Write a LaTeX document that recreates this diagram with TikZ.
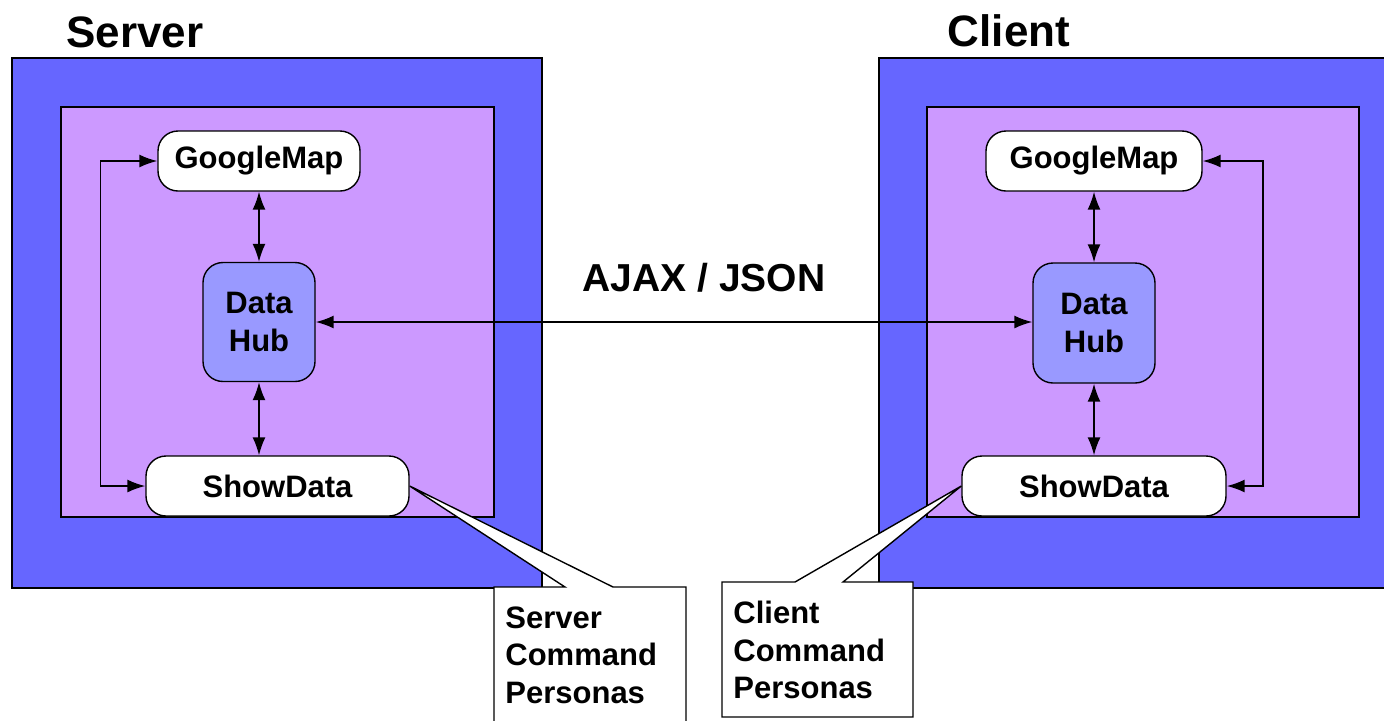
\documentclass[tikz,border=0pt]{standalone}
\usepackage{fontspec}
\setmainfont{Liberation Sans}
\usepackage{tikz}
\usetikzlibrary{positioning,arrows.meta}
\definecolor{outerblue}{RGB}{102,102,255}
\definecolor{innerlilac}{RGB}{204,153,255}
\definecolor{hubblue}{RGB}{153,153,255}

\begin{document}
\begin{tikzpicture}[x=0.5pt, y=-0.5pt, >={Latex[length=9pt,width=6.5pt]},
    every node/.style = {font=\bfseries\fontsize{15.5}{18.75}\selectfont},
    outerbox/.style = {draw, line width=0.6pt, fill=outerblue, minimum width=265pt, minimum height=265pt, inner sep=0pt},
    innerbox/.style = {draw, line width=0.7pt, fill=innerlilac, minimum width=216.5pt, minimum height=205pt, inner sep=0pt},
    comp/.style = {draw, line width=0.7pt, fill=white, rounded corners=10pt, minimum height=30pt, inner sep=0pt},
    hub/.style = {draw, line width=0.7pt, fill=hubblue, rounded corners=10pt, align=center, minimum height=59.5pt, inner sep=0pt},
    title/.style = {font=\bfseries\fontsize{22}{26}\selectfont},
    note/.style = {draw, line width=0.7pt, fill=white},
    notetext/.style = {anchor=north west, align=left, text width=85pt, minimum height=67.5pt, inner xsep=5.5pt, inner ysep=0pt},
    link/.style = {<->, line width=0.8pt}
  ]
  \path[use as bounding box, fill=white] (0,0) rectangle (1384,720);

  % server side
  \node[outerbox] (sOut) at (277,323) {};
  \node[innerbox] (sIn) at (277.5,312) {};
  \node[title] (sTitle) at (135,32) {Server};
  \node[comp, minimum width=101pt] (sMap) at (259,161) {GoogleMap};
  \node[hub, minimum width=56pt] (sHub) at (259,322) {Data\\Hub};
  \node[comp, minimum width=131.5pt] (sShow) at (277.5,486) {ShowData};
  \draw[link] (sMap.south) -- (sMap.south |- sHub.north);
  \draw[link] (sHub.south) -- (sHub.south |- sShow.north);
  \draw[link] (sMap.west) -- ++(-57,0) |- (sShow.west);

  % client side
  \node[outerbox] (cOut) at (1144,323) {};
  \node[innerbox, minimum width=216pt] (cIn) at (1143,312) {};
  \node[title] (cTitle) at (1009,31) {Client};
  \node[comp, minimum width=108pt] (cMap) at (1094,161) {GoogleMap};
  \node[hub, minimum width=61pt, minimum height=60pt] (cHub) at (1094,323) {Data\\Hub};
  \node[comp, minimum width=132pt] (cShow) at (1094,486) {ShowData};
  \draw[link] (cMap.south) -- (cMap.south |- cHub.north);
  \draw[link] (cHub.south) -- (cHub.south |- cShow.north);
  \draw[link] (cMap.east) -- ++(60,0) |- (cShow.east);

  % between them
  \draw[link] (sHub.east) -- (sHub.east -| cHub.west);
  \node[font=\bfseries\fontsize{19.5}{23}\selectfont] (ajax) at (704,278) {AJAX / JSON};

  % callouts
  \coordinate (sNoteTL) at (494,587);
  \draw[note] (sNoteTL) -- ++(71,0) -- (sShow.east) -- ([xshift=59.5pt]sNoteTL) -- ++(73,0) -- ++(0,135) -- ++(-192,0) -- cycle;
  \node[notetext] (sNote) at (sNoteTL) {Server\\Command\\Personas};

  \coordinate (cNoteTL) at (722,582);
  \draw[note] (cNoteTL) -- ++(73,0) -- (cShow.west) -- ([xshift=60.5pt]cNoteTL) -- ++(70,0) -- ++(0,135) -- ++(-191,0) -- cycle;
  \node[notetext] (cNote) at (cNoteTL) {Client\\Command\\Personas};
\end{tikzpicture}
\end{document}
